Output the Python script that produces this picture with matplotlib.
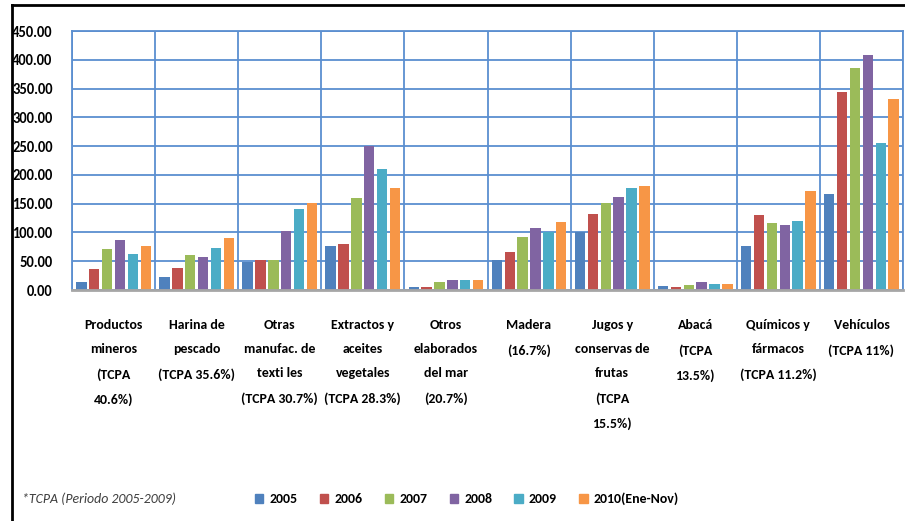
import numpy as np
import matplotlib
matplotlib.use("Agg")
import matplotlib.pyplot as plt
from matplotlib.lines import Line2D
from matplotlib.patches import Patch

plt.rcParams['font.family'] = ['Carlito', 'DejaVu Sans']

# datos
categorias = [
    "Productos\nmineros\n(TCPA\n40.6%)",
    "Harina de\npescado\n(TCPA 35.6%)",
    "Otras\nmanufac. de\ntexti les\n(TCPA 30.7%)",
    "Extractos y\naceites\nvegetales\n(TCPA 28.3%)",
    "Otros\nelaborados\ndel mar\n(20.7%)",
    "Madera\n(16.7%)",
    "Jugos y\nconservas de\nfrutas\n(TCPA\n15.5%)",
    "Abacá\n(TCPA\n13.5%)",
    "Químicos y\nfármacos\n(TCPA 11.2%)",
    "Vehículos\n(TCPA 11%)",
]
anios = ["2005", "2006", "2007", "2008", "2009", "2010(Ene-Nov)"]
v2005 = [14.4, 23.0, 48.6, 76.4, 5.0, 52.7, 100.0, 7.0, 76.4, 166.8]
v2006 = [36.0, 38.7, 52.7, 79.4, 5.0, 65.5, 132.6, 6.0, 129.7, 344.5]
v2007 = [70.7, 60.0, 52.0, 159.3, 14.0, 92.6, 151.0, 8.7, 116.4, 385.0]
v2008 = [87.4, 57.0, 103.0, 250.7, 17.0, 108.0, 162.0, 14.0, 113.0, 409.0]
v2009 = [62.5, 73.5, 140.7, 210.0, 17.0, 100.0, 177.7, 11.0, 119.3, 255.0]
v2010 = [76.4, 89.8, 151.0, 177.7, 17.0, 119.0, 180.6, 11.0, 172.5, 331.0]
series = [v2005, v2006, v2007, v2008, v2009, v2010]
colores = ["#4F81BD", "#C0504D", "#9BBB59", "#8064A2", "#4BACC6", "#F79646"]
yticks = [0, 50, 100, 150, 200, 250, 300, 350, 400, 450]

W, H = 905, 521
fig = plt.figure(figsize=(W / 100, H / 100), dpi=100)
ax = fig.add_axes([72 / W, 1 - 290 / H, (903 - 72) / W, (290 - 31) / H])

x = np.arange(len(categorias))
paso = 0.155
ancho = 0.125
for j, vals in enumerate(series):
    ax.bar(x + (j - 2.5) * paso, vals, width=ancho, color=colores[j], zorder=3)

azul = "#5B8FD0"
ax.set_xlim(-0.5, len(categorias) - 0.5)
ax.set_ylim(0, 450)
ax.set_yticks(yticks)
ax.set_yticklabels([f"{t:.2f}" for t in yticks], fontweight="bold", fontsize=10.5)
ax.set_xticks(x)
ax.set_xticklabels(categorias, fontweight="bold", fontsize=10)
for lab in ax.get_xticklabels():
    lab.set_linespacing(2.2)
ax.set_xticks(np.arange(-0.5, len(categorias), 1), minor=True)
ax.tick_params(axis="x", which="both", length=0, pad=21)
ax.tick_params(axis="y", length=0, pad=14)
ax.grid(axis="y", which="major", color=azul, lw=1.3, zorder=1)
ax.grid(axis="x", which="minor", color=azul, lw=1.3, zorder=1)
for s in ["left", "right", "top"]:
    ax.spines[s].set_color(azul)
    ax.spines[s].set_linewidth(1.3)
ax.spines["bottom"].set_color("#A6A6A6")
ax.spines["bottom"].set_linewidth(2)
ax.spines["bottom"].set_zorder(4)

# leyenda
handles = [Patch(color=c, label=a) for c, a in zip(colores, anios)]
fig.legend(handles=handles, loc="center", bbox_to_anchor=(467 / W, 1 - 499 / H),
           ncol=6, frameon=False, prop={"weight": "bold", "size": 10},
           handlelength=0.6, handleheight=0.6, handletextpad=0.45, columnspacing=1.6)

fig.text(22 / W, 1 - 499 / H, "*TCPA (Periodo 2005-2009)", fontsize=10,
         style="italic", color="#404040", va="center", ha="left")

# marco
fig.add_artist(Line2D([12 / W, 12 / W], [0, 1 - 4.5 / H], color="black", lw=2, transform=fig.transFigure))
fig.add_artist(Line2D([12 / W, 1], [1 - 4.5 / H, 1 - 4.5 / H], color="black", lw=2, transform=fig.transFigure))

fig.savefig("out.png", dpi=100)
